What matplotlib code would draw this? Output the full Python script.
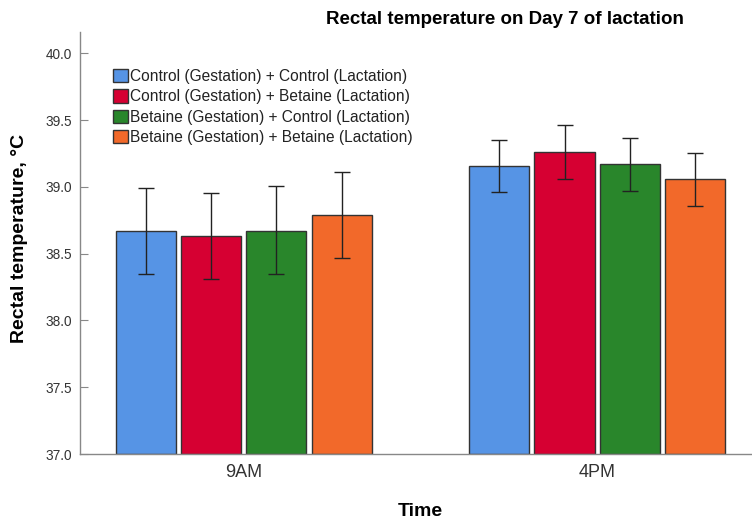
import matplotlib
matplotlib.use("Agg")
import matplotlib.pyplot as plt
import numpy as np
from matplotlib.patches import Patch

plt.rcParams['font.family'] = ['Liberation Sans', 'DejaVu Sans']

times = ["9AM", "4PM"]
groups = ["Control (Gestation) + Control (Lactation)",
          "Control (Gestation) + Betaine (Lactation)",
          "Betaine (Gestation) + Control (Lactation)",
          "Betaine (Gestation) + Betaine (Lactation)"]
means = [[38.67, 39.155],
         [38.63, 39.26],
         [38.67, 39.17],
         [38.79, 39.06]]
upper = [[38.99, 39.35],
         [38.955, 39.46],
         [39.005, 39.37],
         [39.11, 39.255]]
lower = [[38.35, 38.96],
         [38.31, 39.06],
         [38.345, 38.97],
         [38.47, 38.86]]
colors = ["#5694e5", "#d60032", "#29862b", "#f2692a"]

fig = plt.figure(figsize=(7.52, 5.24), dpi=100)
ax = fig.add_axes([80/752, 1-454/524, 671/752, (454-32)/524])

x = np.arange(len(times))
pitch = 0.185
width = 0.17
for i in range(4):
    xs = x + (i - 1.5) * pitch
    m = np.array(means[i]); u = np.array(upper[i]); l = np.array(lower[i])
    ax.bar(xs, m - 37.0, bottom=37.0, width=width, color=colors[i],
           edgecolor="#333333", linewidth=1.0, zorder=2)
    ax.errorbar(xs, m, yerr=[m - l, u - m], fmt="none", ecolor="#222222",
                elinewidth=1.0, capsize=6, capthick=1.0, zorder=3)

ax.set_xlim(-0.463, 1.435)
ax.set_ylim(37.0, 40.16)
yt = [37.0, 37.5, 38.0, 38.5, 39.0, 39.5, 40.0]
ax.set_yticks(yt)
ax.set_yticklabels([f"{v:.1f}" for v in yt])
ax.set_xticks(x)
ax.set_xticklabels(times)
ax.tick_params(axis='y', labelsize=9.8, colors="#333333", length=6, direction="in",
               color="#888888", pad=6)
ax.tick_params(axis='x', labelsize=13, colors="#333333", length=0, pad=7)
for s in ["top", "right"]:
    ax.spines[s].set_visible(False)
for s in ["left", "bottom"]:
    ax.spines[s].set_color("#888888")
    ax.spines[s].set_linewidth(1.0)

fig.text(20/752, 1-238/524, "Rectal temperature, \u00b0C", fontsize=14, fontweight="bold",
         ha="center", va="center", rotation=90)
fig.text(420/752, 1-512/524, "Time", fontsize=14, fontweight="bold", ha="center", va="center")
fig.text(505/752, 1-19/524, "Rectal temperature on Day 7 of lactation", fontsize=13.5,
         fontweight="bold", ha="center", va="center")

handles = [Patch(facecolor=c, edgecolor="#333333", linewidth=1.0) for c in colors]
leg = ax.legend(handles, groups, loc="upper left", bbox_to_anchor=(33/671, (454-69)/(454-32)),
                frameon=False, fontsize=11.2, handlelength=0.95, handleheight=0.95,
                handletextpad=0.15, labelspacing=0.34, borderaxespad=0, borderpad=0)
for t in leg.get_texts():
    t.set_color("#222222")

fig.savefig("out.png", dpi=100)
